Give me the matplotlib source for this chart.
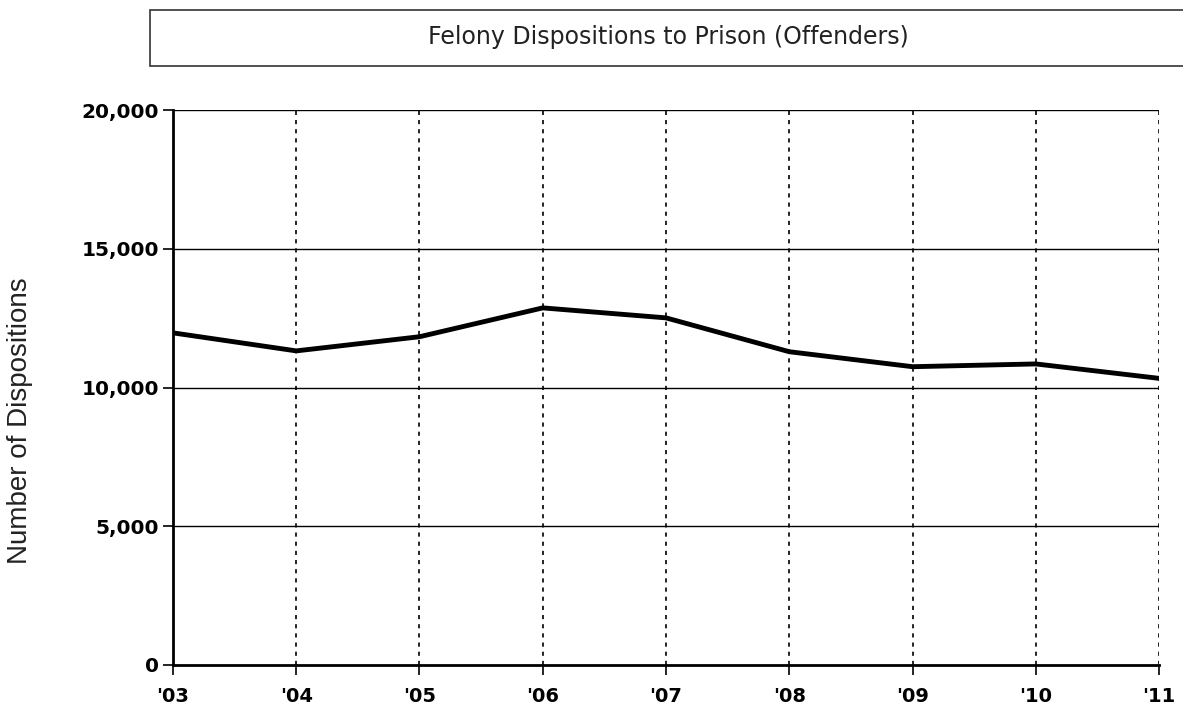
import matplotlib.pyplot as plt
from matplotlib.patches import Rectangle

# Данные
years = ["'03", "'04", "'05", "'06", "'07", "'08", "'09", "'10", "'11"]
dispositions = [11970, 11320, 11830, 12870, 12510, 11290, 10750, 10850, 10330]
y_ticks = [0, 5000, 10000, 15000, 20000]

fig = plt.figure(figsize=(11.83, 7.10), dpi=100)
ax = fig.add_axes([0.1462, 0.0634, 0.8336, 0.7816])

x = list(range(len(years)))
ax.plot(x, dispositions, color='black', linewidth=3.5, solid_joinstyle='round', zorder=3)

ax.set_xlim(0, len(years) - 1)
ax.set_ylim(0, 20000)

# Сетка
for yv in y_ticks[1:]:
    ax.axhline(yv, color='black', linewidth=1.0, zorder=1)
for xv in x[1:]:
    ax.axvline(xv, color='black', linewidth=1.2, linestyle=(0, (2.5, 3)), zorder=1)

ax.set_xticks(x)
ax.set_xticklabels(years, fontsize=14, fontweight='bold', family='DejaVu Sans')
ax.set_yticks(y_ticks)
ax.set_yticklabels([f"{v:,}" for v in y_ticks], fontsize=14.5, fontweight='bold', family='DejaVu Sans')
ax.tick_params(axis='both', direction='out', length=7, width=1.2, color='black')
ax.tick_params(axis='x', pad=9)
ax.tick_params(axis='y', pad=3)

for side in ['top', 'right']:
    ax.spines[side].set_visible(False)
ax.spines['left'].set_linewidth(2)
ax.spines['bottom'].set_linewidth(2)

# Подпись оси Y
fig.text(20 / 1183, 1 - 421 / 710, 'Number of Dispositions', rotation=90, ha='center', va='center',
         fontsize=20, family='Liberation Sans', color='#222222')

# Заголовок в рамке
box = Rectangle((0.1268, 0.907), 0.88, 0.079, transform=fig.transFigure,
                facecolor='white', edgecolor='#333333', linewidth=1.2)
fig.patches.append(box)
fig.text(668 / 1183, 1 - 37 / 710, 'Felony Dispositions to Prison (Offenders)', ha='center', va='center',
         fontsize=17, family='DejaVu Sans', color='#222222')

plt.savefig('out.png', dpi=100)
